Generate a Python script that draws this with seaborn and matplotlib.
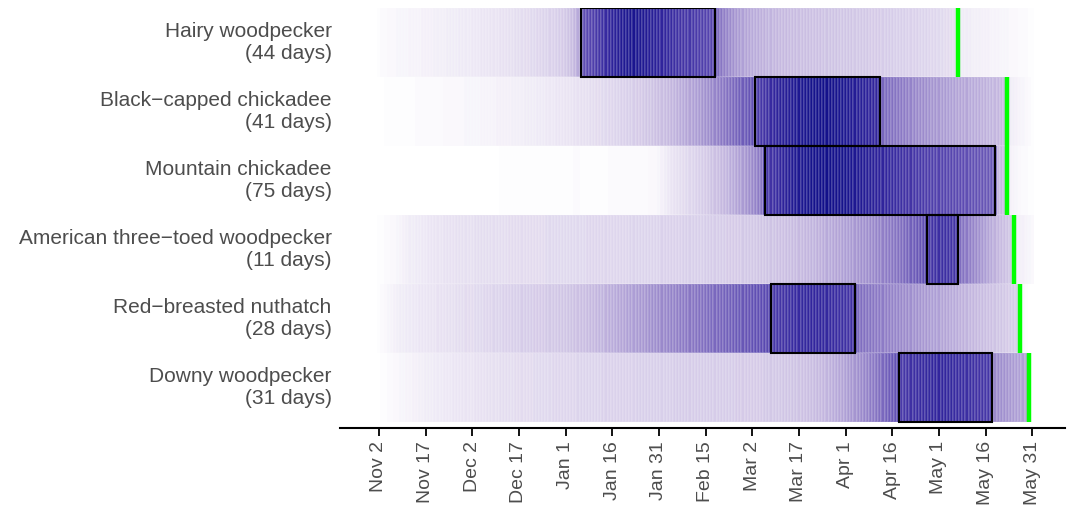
import numpy as np
import pandas as pd
import matplotlib
matplotlib.use("Agg")
import matplotlib.pyplot as plt
from matplotlib.colors import LinearSegmentedColormap
from matplotlib.patches import Rectangle
import seaborn as sns

# ---------------- data ----------------
species = ["Hairy woodpecker", "Black\u2212capped chickadee", "Mountain chickadee",
           "American three\u2212toed woodpecker", "Red\u2212breasted nuthatch", "Downy woodpecker"]
window_days = [44, 41, 75, 11, 28, 31]
window_start = ["Jan 6", "Mar 3", "Mar 6", "Apr 27", "Mar 8", "Apr 18"]
last_seen = ["May 7", "May 23", "May 23", "May 25", "May 27", "May 30"]
tick_labels = ["Nov 2", "Nov 17", "Dec 2", "Dec 17", "Jan 1", "Jan 16", "Jan 31",
               "Feb 15", "Mar 2", "Mar 17", "Apr 1", "Apr 16", "May 1", "May 16", "May 31"]

# daily intensity, Nov 1 .. May 31 (212 days), 10 values per line
hairy = [
    0, 1, 2, 2, 3, 3, 3, 4, 4, 4,
    4, 5, 5, 5, 5, 6, 6, 6, 6, 7,
    7, 7, 7, 8, 8, 8, 8, 9, 9, 9,
    9, 10, 10, 10, 11, 11, 11, 12, 12, 12,
    13, 13, 13, 14, 14, 15, 15, 15, 16, 16,
    17, 17, 18, 18, 19, 19, 20, 20, 21, 22,
    23, 24, 26, 28, 31, 35, 62, 66, 68, 70,
    72, 75, 77, 79, 82, 84, 86, 88, 90, 92,
    93, 94, 95, 96, 95, 94, 93, 92, 90, 89,
    88, 86, 85, 84, 83, 82, 80, 79, 78, 77,
    76, 76, 75, 74, 73, 72, 71, 70, 69, 68,
    55, 52, 49, 47, 45, 43, 41, 40, 38, 37,
    36, 35, 34, 34, 33, 33, 32, 32, 31, 31,
    30, 30, 30, 29, 29, 29, 28, 28, 28, 28,
    27, 27, 27, 27, 26, 26, 26, 26, 26, 25,
    25, 25, 25, 25, 24, 24, 24, 24, 24, 23,
    23, 23, 23, 22, 22, 22, 22, 21, 21, 21,
    21, 20, 20, 20, 20, 19, 19, 19, 18, 18,
    18, 17, 17, 16, 16, 15, 15, 12, 9, 8,
    8, 8, 7, 7, 7, 6, 6, 6, 5, 5,
    5, 4, 4, 4, 3, 3, 3, 2, 2, 2,
    1, 1]
black_capped = [
    0, 0, 0, 1, 1, 1, 1, 1, 1, 1,
    1, 1, 1, 2, 2, 2, 2, 2, 2, 2,
    2, 2, 3, 3, 3, 3, 3, 3, 3, 4,
    4, 4, 4, 4, 5, 5, 5, 5, 5, 6,
    6, 6, 6, 6, 7, 7, 7, 7, 8, 8,
    8, 8, 9, 9, 9, 10, 10, 10, 11, 11,
    11, 12, 12, 12, 13, 13, 14, 14, 14, 15,
    15, 16, 16, 17, 17, 18, 18, 19, 19, 20,
    20, 21, 21, 22, 23, 23, 24, 25, 25, 26,
    27, 28, 28, 29, 30, 31, 32, 33, 34, 35,
    36, 37, 38, 39, 40, 42, 43, 44, 46, 47,
    49, 51, 52, 54, 55, 57, 58, 60, 61, 62,
    64, 65, 72, 74, 76, 78, 80, 82, 84, 86,
    88, 89, 90, 91, 92, 93, 94, 95, 96, 97,
    98, 98, 99, 99, 100, 99, 99, 98, 97, 96,
    95, 94, 93, 92, 91, 90, 89, 88, 87, 86,
    85, 84, 83, 58, 56, 55, 54, 53, 52, 51,
    50, 49, 48, 47, 46, 45, 45, 44, 43, 42,
    42, 41, 40, 40, 39, 38, 38, 37, 37, 36,
    36, 35, 35, 34, 34, 33, 33, 32, 32, 31,
    31, 30, 30, 30, 8, 7, 6, 5, 4, 3,
    2, 1]
mountain = [
    0, 0, 0, 0, 0, 0, 0, 0, 0, 0,
    0, 0, 0, 0, 0, 0, 0, 0, 0, 0,
    0, 0, 0, 0, 0, 0, 0, 0, 0, 0,
    0, 0, 0, 0, 0, 0, 0, 0, 0, 0,
    1, 1, 1, 1, 1, 1, 1, 1, 1, 1,
    1, 1, 1, 1, 1, 1, 1, 1, 1, 1,
    1, 1, 1, 1, 2, 2, 1, 1, 1, 1,
    1, 1, 1, 1, 1, 2, 2, 2, 2, 2,
    2, 2, 2, 2, 2, 2, 2, 2, 3, 3,
    3, 4, 6, 8, 10, 12, 13, 14, 15, 16,
    17, 18, 19, 20, 21, 22, 23, 24, 26, 27,
    28, 30, 31, 32, 34, 35, 37, 38, 40, 42,
    44, 46, 48, 50, 52, 74, 76, 78, 80, 82,
    84, 86, 88, 90, 92, 93, 94, 95, 96, 97,
    98, 99, 99, 100, 100, 100, 100, 99, 99, 98,
    98, 97, 96, 95, 94, 93, 92, 91, 90, 89,
    88, 87, 86, 85, 84, 83, 82, 81, 80, 79,
    78, 78, 77, 76, 75, 75, 74, 73, 73, 72,
    71, 71, 70, 70, 69, 69, 68, 68, 67, 67,
    66, 66, 65, 65, 64, 64, 63, 63, 62, 62,
    30, 30, 29, 29, 6, 5, 4, 3, 2, 2,
    1, 1]
three_toed = [
    0, 1, 1, 2, 2, 3, 3, 4, 5, 6,
    7, 8, 8, 9, 9, 10, 10, 11, 11, 12,
    12, 12, 13, 13, 13, 13, 14, 14, 14, 14,
    14, 14, 15, 15, 15, 15, 15, 15, 15, 15,
    15, 15, 15, 16, 16, 16, 16, 16, 16, 16,
    16, 16, 16, 16, 16, 17, 17, 17, 17, 17,
    17, 17, 17, 17, 17, 17, 17, 17, 18, 18,
    18, 18, 18, 18, 18, 18, 18, 18, 18, 18,
    18, 18, 19, 19, 19, 19, 19, 19, 19, 19,
    19, 19, 20, 20, 20, 20, 20, 20, 20, 21,
    21, 21, 21, 21, 21, 21, 22, 22, 22, 22,
    22, 22, 22, 23, 23, 23, 23, 23, 24, 24,
    24, 24, 24, 25, 25, 25, 26, 26, 26, 27,
    27, 27, 28, 28, 29, 29, 30, 30, 31, 31,
    32, 32, 33, 33, 34, 35, 35, 36, 37, 37,
    38, 39, 39, 40, 41, 42, 43, 43, 44, 45,
    46, 47, 48, 49, 50, 51, 52, 53, 54, 55,
    57, 58, 60, 61, 63, 64, 66, 74, 76, 78,
    79, 80, 80, 80, 79, 78, 77, 76, 55, 53,
    51, 49, 47, 45, 43, 41, 39, 37, 35, 33,
    31, 29, 28, 26, 25, 24, 8, 7, 6, 5,
    4, 3]
nuthatch = [
    0, 1, 2, 3, 4, 5, 6, 7, 8, 8,
    9, 9, 10, 10, 11, 11, 11, 12, 12, 12,
    13, 13, 13, 14, 14, 14, 15, 15, 15, 16,
    16, 16, 17, 17, 17, 18, 18, 18, 19, 19,
    19, 20, 20, 20, 21, 21, 21, 22, 22, 22,
    22, 23, 23, 23, 23, 24, 24, 24, 24, 25,
    25, 25, 26, 26, 27, 27, 28, 28, 29, 30,
    30, 31, 32, 32, 33, 34, 34, 35, 36, 36,
    37, 38, 38, 39, 40, 41, 41, 42, 43, 44,
    44, 45, 46, 46, 47, 48, 48, 49, 50, 50,
    51, 52, 52, 53, 54, 54, 55, 56, 56, 57,
    58, 58, 59, 60, 60, 61, 62, 62, 63, 64,
    64, 65, 66, 66, 67, 68, 68, 74, 75, 76,
    77, 78, 79, 80, 81, 82, 82, 83, 83, 84,
    84, 84, 84, 84, 83, 83, 82, 82, 81, 80,
    80, 79, 78, 78, 77, 56, 55, 54, 53, 53,
    52, 51, 51, 50, 49, 49, 48, 47, 47, 46,
    45, 45, 44, 43, 43, 42, 41, 41, 40, 39,
    39, 38, 37, 37, 36, 35, 35, 34, 33, 33,
    32, 31, 31, 30, 29, 29, 28, 27, 27, 26,
    25, 25, 24, 23, 22, 22, 21, 3, 2, 1,
    0, 0]
downy = [
    0, 0, 1, 1, 2, 2, 3, 3, 4, 4,
    5, 5, 6, 6, 7, 7, 8, 8, 8, 9,
    9, 9, 10, 10, 10, 11, 11, 11, 12, 12,
    12, 12, 13, 13, 13, 13, 14, 14, 14, 14,
    15, 15, 15, 15, 15, 16, 16, 16, 16, 16,
    16, 17, 17, 17, 17, 17, 17, 18, 18, 18,
    18, 18, 18, 18, 18, 19, 19, 19, 19, 19,
    19, 19, 19, 20, 20, 20, 20, 20, 20, 20,
    20, 20, 20, 20, 21, 21, 21, 21, 21, 21,
    21, 21, 21, 21, 21, 21, 22, 22, 22, 22,
    22, 22, 22, 22, 22, 22, 22, 22, 22, 22,
    22, 22, 22, 22, 22, 22, 23, 23, 23, 23,
    23, 23, 23, 23, 23, 24, 24, 24, 24, 24,
    24, 25, 25, 25, 26, 26, 26, 27, 27, 28,
    28, 29, 30, 30, 31, 32, 33, 34, 35, 36,
    37, 38, 40, 41, 42, 44, 45, 47, 48, 50,
    51, 53, 55, 57, 59, 61, 63, 65, 72, 74,
    76, 78, 79, 80, 81, 82, 82, 83, 83, 84,
    84, 84, 84, 84, 83, 83, 82, 82, 81, 81,
    80, 80, 79, 78, 78, 77, 76, 76, 75, 46,
    45, 44, 43, 42, 41, 40, 39, 38, 38, 37,
    36, 0]

rows = [hairy, black_capped, mountain, three_toed, nuthatch, downy]

# ---------------- helpers ----------------
season_start = pd.Timestamp("2016-11-01")


def day_index(s):
    mon, day = s.split()
    year = 2016 if mon in ("Nov", "Dec") else 2017
    return (pd.to_datetime(f"{day} {mon} {year}", format="%d %b %Y") - season_start).days


labels = [f"{s}\n({d} days)" for s, d in zip(species, window_days)]
df = pd.DataFrame(rows, index=labels)

cmap = LinearSegmentedColormap.from_list(
    "birds",
    [(0.0, "#ffffff"), (0.05, "#f5f2fa"), (0.15, "#e4ddf0"), (0.3, "#c6b9e0"),
     (0.5, "#8e7cc6"), (0.7, "#5443ae"), (0.85, "#30249c"), (1.0, "#12108a")])

# ---------------- figure ----------------
sns.set_style("white")
plt.rcParams["font.family"] = ["Liberation Sans", "DejaVu Sans"]

fig = plt.figure(figsize=(10.72, 5.09), dpi=100)
ax = fig.add_axes([340 / 1072, 1 - 428 / 509, 725 / 1072, 420 / 509])

sns.heatmap(df, ax=ax, cmap=cmap, vmin=0, vmax=100, cbar=False,
            linewidths=0.2, linecolor=(1, 1, 1, 0.12),
            xticklabels=False, yticklabels=True)

for i, (start, ndays, last) in enumerate(zip(window_start, window_days, last_seen)):
    s = day_index(start)
    ax.add_patch(Rectangle((s + 0.5, i), ndays - 1, 1, fill=False,
                           edgecolor="black", linewidth=1.5, zorder=5))
    ax.vlines(day_index(last) + 0.5, i, i + 1, color="#00ff00", linewidth=3.2, zorder=6)

ax.set_xlim(-11, 222)
ax.set_ylim(6.087, 0)

tick_pos = [day_index(t) + 0.5 for t in tick_labels]
ax.set_xticks(tick_pos)
ax.set_xticklabels(tick_labels, rotation=90, fontsize=14, color="#4d4d4d")
ax.set_yticks(np.arange(len(labels)) + 0.5)
ax.set_yticklabels(labels, rotation=0, fontsize=15, color="#4d4d4d",
                   ha="right", va="center", linespacing=1.15)
ax.tick_params(axis="x", length=6, width=1.3, color="black", pad=3.5, bottom=True)
ax.tick_params(axis="y", length=0, pad=6)
ax.set_xlabel("")
ax.set_ylabel("")

for side in ["top", "left", "right"]:
    ax.spines[side].set_visible(False)
ax.spines["bottom"].set_visible(True)
ax.spines["bottom"].set_color("black")
ax.spines["bottom"].set_linewidth(1.5)

fig.savefig("out.png", dpi=100)
